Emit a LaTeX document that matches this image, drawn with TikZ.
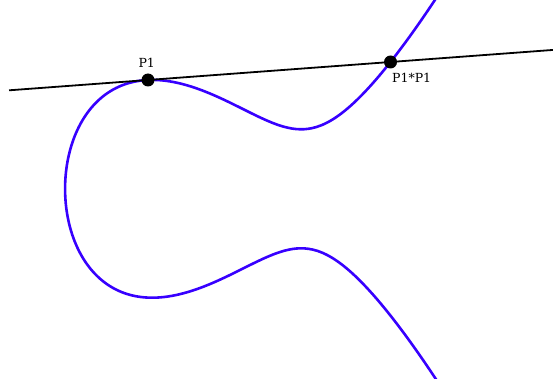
\documentclass[tikz,border=0pt]{standalone}
\usepackage{fontspec}
\setmainfont{DejaVu Serif}
\usetikzlibrary{calc}
\definecolor{curvecol}{RGB}{55,0,255}
\begin{document}
\begin{tikzpicture}[x=1pt,y=1pt,
  declare function={Xc(\u)=-2.1695+(\u)*(\u); Gc(\u)=Xc(\u)*Xc(\u)-2.1695*Xc(\u)+1.7067;},
  curve/.style={draw=curvecol,line width=2.6pt,line join=round},
  tline/.style={draw=black,line width=1.8pt},
  dot/.style={circle,fill=black,inner sep=0pt,minimum size=13pt},
  lab/.style={font=\fontsize{12.5}{14}\selectfont,inner sep=0pt}]
\useasboundingbox (0,0) rectangle (553,378);
\begin{scope}
\clip (0,0) rectangle (553,378);
\draw[curve] plot[domain=-2.26:2.26,samples=301,smooth,variable=\u]
  ({226.7+74.5*Xc(\u)},{189.2+45.6*(\u)*sqrt(Gc(\u))});
\end{scope}
\coordinate (p1c) at (148,298);
\coordinate (p3c) at (390.5,316);
\coordinate (L) at ($(p1c)!-0.573!(p3c)$);
\coordinate (R) at ($(p1c)!1.67!(p3c)$);
\draw[tline] (L) -- (R);
\node[dot] (P1) at (p1c) {};
\node[dot] (P3) at (p3c) {};
\node[lab] (lP1) at (146.7,315) {P1};
\node[lab] (lP3) at (411.7,300) {P1*P1};
\end{tikzpicture}
\end{document}
